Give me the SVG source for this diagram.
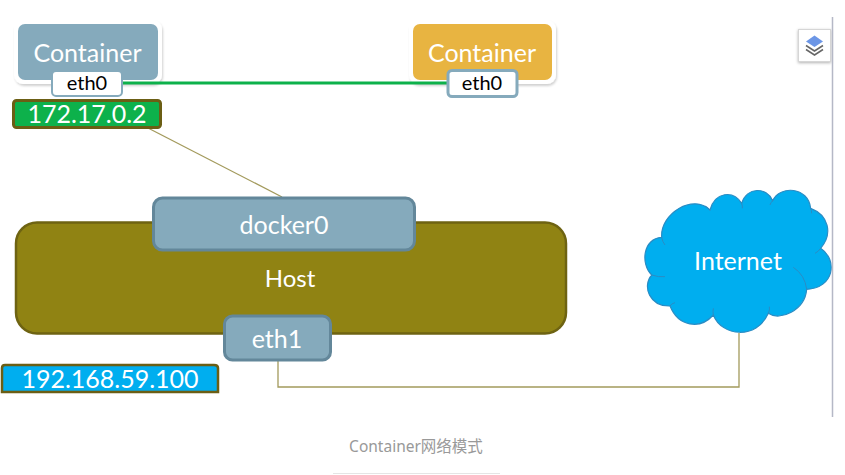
<svg xmlns="http://www.w3.org/2000/svg" width="845" height="475" viewBox="0 0 845 475">
<defs>
<style>
text{font-family:"Lato","Open Sans","Noto Sans CJK SC",sans-serif;text-anchor:middle;fill:#fff}
.blue{fill:#85aabc;stroke:#63879a;stroke-width:3}
.tag{fill:#fff;stroke:#85aabc;stroke-width:3}
.halo{fill:#fff}
.conn{fill:none;stroke:#a39a5c;stroke-width:1.3}
</style>
<filter id="sh" x="-20%" y="-20%" width="140%" height="140%"><feDropShadow dx="0" dy="1" stdDeviation="1.500" flood-color="#000" flood-opacity=".3"/></filter>
<filter id="sh2" x="-20%" y="-20%" width="140%" height="140%"><feDropShadow dx="1" dy="2" stdDeviation="1" flood-color="#000" flood-opacity=".18"/></filter>
</defs>
<rect width="845" height="475" fill="#fff"/>
<g id="connectors">
<path class="conn" d="M148 128L282 197"/>
<path class="conn" d="M278 360V387H739V333"/>
</g>
<g id="container1">
<rect class="halo" x="14" y="20" width="148" height="64" rx="9" filter="url(#sh2)"/>
<rect x="18" y="24" width="140" height="56" rx="7" fill="#85aabc"/>
<text x="87.500" y="62" font-size="25">Container</text>
</g>
<g id="container2">
<rect class="halo" x="409" y="20" width="147" height="64" rx="9" filter="url(#sh2)"/>
<rect x="413" y="24" width="139" height="56" rx="7" fill="#e8b441"/>
<text x="482" y="62" font-size="25">Container</text>
</g>
<path id="green-link" d="M120 83H450" fill="none" stroke="#0db14b" stroke-width="3"/>
<g id="container1-eth0">
<rect x="52" y="71" width="70" height="25" rx="4" fill="#fff" stroke="#85aabc" stroke-width="2"/>
<text x="87" y="90" font-size="20" style="fill:#000">eth0</text>
</g>
<g id="ip1">
<rect x="13.500" y="100.500" width="147" height="27" rx="3" fill="#0db14b" stroke="#6b5e14" stroke-width="3"/>
<text x="87" y="123" font-size="25">172.17.0.2</text>
</g>
<g id="container2-eth0">
<rect class="tag" x="448" y="70.500" width="69" height="26" rx="4"/>
<text x="482" y="90" font-size="20" style="fill:#000">eth0</text>
</g>
<g id="host">
<rect x="16" y="222.500" width="550" height="111" rx="21" fill="#908313" stroke="#6e6312" stroke-width="2.500"/>
<text x="290" y="287" font-size="24">Host</text>
</g>
<g id="docker0">
<rect class="blue" x="153.500" y="198" width="261" height="52" rx="9"/>
<text x="284" y="234" font-size="25">docker0</text>
</g>
<g id="eth1">
<rect class="blue" x="224.500" y="316" width="106" height="44" rx="8"/>
<text x="277" y="348" font-size="25">eth1</text>
</g>
<g id="ip2">
<path d="M2 392V368Q2 365 5 365H214Q218 365 218 368V392Z" fill="#00aeef" stroke="#6b5e14" stroke-width="2.500"/>
<text x="110" y="388" font-size="25">192.168.59.100</text>
</g>
<g id="internet">
<path transform="translate(630 180) scale(.33333)" d="M95 172C90 100 190 40 240 90C255 35 310 30 335 70C350 20 410 20 428 62C450 15 535 20 542 85C595 105 610 160 572 205C625 240 612 325 530 328C525 390 450 425 415 400C380 480 275 470 250 405C210 450 145 440 120 378C60 380 35 320 65 285C30 250 40 175 95 172Z" fill="#00aeef" stroke="#2a8cc4" stroke-width="3.500"/>
<path transform="translate(630 180) scale(.33333)" d="M65 285Q85 292 105 290M490 262Q525 285 530 328M572 205Q565 215 555 220M95 172Q97 185 105 195M240 90Q232 82 225 78M335 70Q338 78 337 85M428 62Q422 68 420 75M542 85Q545 92 545 100M120 378Q125 370 135 368M250 405Q248 395 250 385M415 400Q420 390 418 380" fill="none" stroke="#2a8cc4" stroke-width="3"/>
<text x="738" y="270" font-size="25">Internet</text>
</g>
<g id="layers">
<rect x="798.500" y="29.500" width="32" height="32" fill="#fff" stroke="#d6d6d6" filter="url(#sh)"/>
<path d="M814.500 35.500L823 41.500L814.500 47L806 41.500Z" fill="#6c96e6"/>
<path d="M806 45.500L814.500 51L823 45.500M806 49.500L814.500 55L823 49.500" fill="none" stroke="#666" stroke-width="1.500"/>
</g>
<path d="M832.500 17V417" stroke="#b5b8c6" stroke-width="1.500"/>
<text x="416" y="452" font-size="15.500" style="fill:#999;font-family:'Noto Sans','Noto Sans CJK SC',sans-serif">Container网络模式</text>
<path d="M333 473.500H500" stroke="#e5e5e5"/>
</svg>
